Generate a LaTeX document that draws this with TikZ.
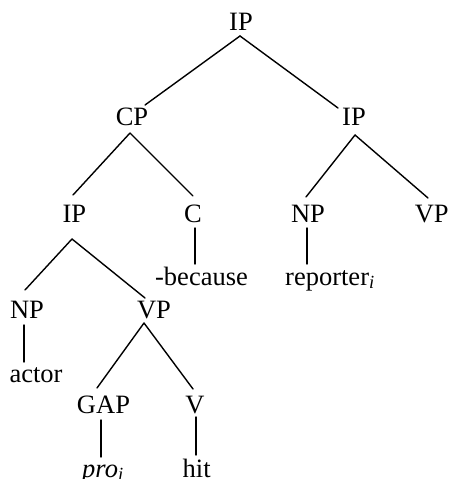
\documentclass[tikz,border=0pt]{standalone}
\usepackage{fontspec}
\setmainfont{Liberation Serif}
\begin{document}
\begin{tikzpicture}[x=1bp,y=-1bp,
  lab/.style={inner sep=0pt,anchor=base,font=\fontsize{26.5bp}{31bp}\selectfont},
  labw/.style={lab,anchor=base west},
  edge/.style={line width=1.4bp,line cap=round}]
\useasboundingbox (0,0) rectangle (450,479);
% nodes
\node[lab] (ip0) at (241,30.7) {IP};
\node[lab] (cp) at (132,126) {CP};
\node[lab] (ip1) at (354,126) {IP};
\node[lab] (ip2) at (74.3,222.3) {IP};
\node[lab] (c) at (193,222) {C};
\node[lab] (np1) at (308,222) {NP};
\node[lab] (vp1) at (431.7,222) {VP};
\node[lab] (because) at (201.5,285) {-because};
\node[labw] (reporter) at (285,285) {reporter\textsubscript{\itshape i}};
\node[lab] (np2) at (27,318) {NP};
\node[lab] (vp2) at (154,318) {VP};
\node[lab] (actor) at (36,382) {actor};
\node[lab] (gap) at (103.5,413) {GAP};
\node[lab] (v) at (195,413) {V};
\node[labw] (pro) at (82,477) {\itshape pro\textsubscript{i}};
\node[lab] (hit) at (196.7,477) {hit};
% edges
\draw[edge] ([shift={(-1,5.3)}]ip0.base) -- ([shift={(13,-21)}]cp.base);
\draw[edge] ([shift={(-1,5.3)}]ip0.base) -- ([shift={(-16,-18)}]ip1.base);
\draw[edge] ([shift={(-2,7)}]cp.base) -- ([shift={(-1.3,-27.3)}]ip2.base);
\draw[edge] ([shift={(-2,7)}]cp.base) -- ([shift={(0,-26)}]c.base);
\draw[edge] ([shift={(1,9)}]ip1.base) -- ([shift={(-2,-25)}]np1.base);
\draw[edge] ([shift={(1,9)}]ip1.base) -- ([shift={(-3.7,-24)}]vp1.base);
\draw[edge] ([shift={(2,6)}]c.base) -- ([shift={(-6.5,-21)}]because.base);
\draw[edge] ([shift={(-1,6)}]np1.base) -- ([shift={(22,-21)}]reporter.base west);
\draw[edge] ([shift={(-2.3,16.7)}]ip2.base) -- ([shift={(-2,-28)}]np2.base);
\draw[edge] ([shift={(-2.3,16.7)}]ip2.base) -- ([shift={(-9,-20)}]vp2.base);
\draw[edge] ([shift={(-3,7)}]np2.base) -- ([shift={(-12,-20)}]actor.base);
\draw[edge] ([shift={(-10,5)}]vp2.base) -- ([shift={(-6.5,-25)}]gap.base);
\draw[edge] ([shift={(-10,5)}]vp2.base) -- ([shift={(-2,-24)}]v.base);
\draw[edge] ([shift={(-2.5,7)}]gap.base) -- ([shift={(19,-20)}]pro.base west);
\draw[edge] ([shift={(1,4)}]v.base) -- ([shift={(-0.7,-22)}]hit.base);
\end{tikzpicture}
\end{document}
